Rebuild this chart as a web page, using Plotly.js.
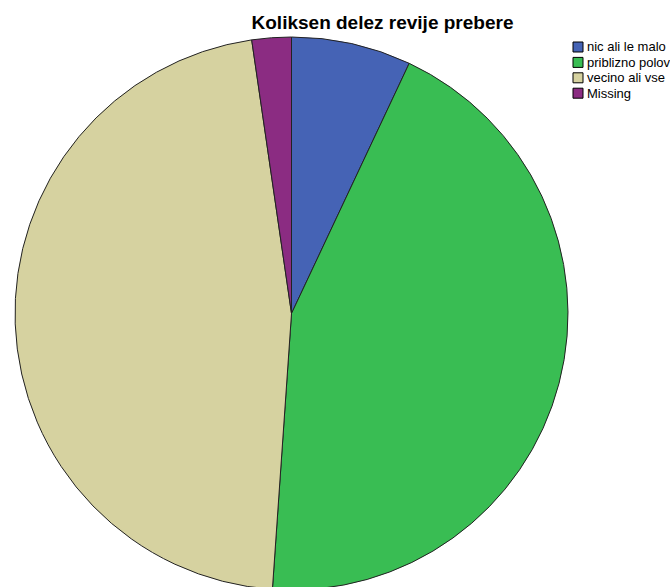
<!DOCTYPE html>
<html>
<head>
<meta charset="utf-8">
<script src="https://cdn.plot.ly/plotly-3.0.1.min.js"></script>
<style>
html, body { margin: 0; padding: 0; overflow: hidden; background: #fff; }
#chart { width: 670px; height: 600px; }
</style>
</head>
<body>
<div id="chart"></div>
<script>
const titleText = "Koliksen delez revije prebere";
const categories = ["nic ali le malo", "priblizno polovico", "vecino ali vse", "Missing"];
const values = [7.0, 44.1, 46.6, 2.3];
const colors = ["#4563b5", "#39bd53", "#d6d2a0", "#8b2c82"];

const W = 670, H = 600;
const ML = 15, MR = 102, MT = 37, MB = 10;
const PW = W - ML - MR, PH = H - MT - MB;

const trace = {
  type: "pie",
  labels: categories,
  values: values,
  sort: false,
  direction: "clockwise",
  rotation: 0,
  textinfo: "none",
  hoverinfo: "label+percent",
  marker: { colors: colors, line: { color: "#222222", width: 1 } },
  showlegend: false,
  domain: { x: [0, 1], y: [0, 1] }
};

// compact SPSS-style legend drawn with shapes + annotations
const legX = 573, legY0 = 47, legStep = 15.4, boxW = 10, boxH = 10;
const px2x = px => (px - ML) / PW;
const px2y = py => 1 - (py - MT) / PH;
const shapes = [], annotations = [];
categories.forEach((c, i) => {
  const cy = legY0 + i * legStep;
  shapes.push({
    type: "rect", xref: "paper", yref: "paper",
    x0: px2x(legX), x1: px2x(legX + boxW),
    y0: px2y(cy + boxH / 2), y1: px2y(cy - boxH / 2),
    fillcolor: colors[i], line: { color: "#000", width: 1 }
  });
  annotations.push({
    xref: "paper", yref: "paper",
    x: px2x(legX + boxW + 2), y: px2y(cy),
    xanchor: "left", yanchor: "middle", showarrow: false,
    text: c, font: { family: "Liberation Sans, Arial, sans-serif", size: 13, color: "#000" }
  });
});

const layout = {
  width: W, height: H,
  margin: { l: ML, r: MR, t: MT, b: MB },
  paper_bgcolor: "#ffffff",
  plot_bgcolor: "#ffffff",
  showlegend: false,
  title: {
    text: "<b>" + titleText + "</b>",
    font: { family: "Liberation Sans, Arial, sans-serif", size: 19, color: "#000" },
    x: 382.5 / W, xref: "container", xanchor: "center",
    y: 1 - 22 / H, yref: "container", yanchor: "middle"
  },
  shapes: shapes,
  annotations: annotations
};

Plotly.newPlot("chart", [trace], layout, { displayModeBar: false, staticPlot: true });
</script>
</body>
</html>
